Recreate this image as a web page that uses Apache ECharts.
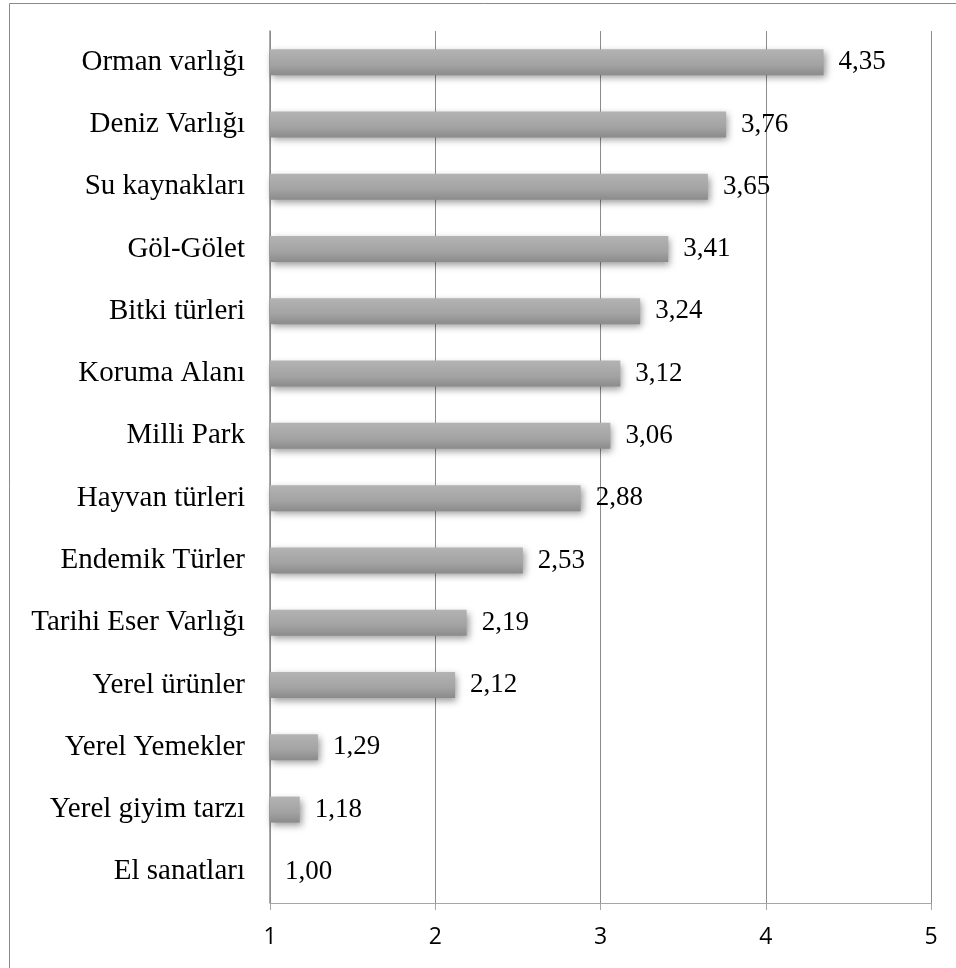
<!DOCTYPE html>
<html>
<head>
<meta charset="utf-8">
<script src="https://cdn.jsdelivr.net/npm/echarts@6/dist/echarts.min.js"></script>
<style>
  html, body { margin: 0; padding: 0; background: #fff; }
  #myChart { width: 956px; height: 968px; }
</style>
</head>
<body>
<div id="myChart"></div>
<script>
// kategoriler, yukaridan asagiya
const categories = [
  'Orman varlığı', 'Deniz Varlığı', 'Su kaynakları', 'Göl-Gölet',
  'Bitki türleri', 'Koruma Alanı', 'Milli Park', 'Hayvan türleri',
  'Endemik Türler', 'Tarihi Eser Varlığı', 'Yerel ürünler',
  'Yerel Yemekler', 'Yerel giyim tarzı', 'El sanatları'
]
const scores = [4.35, 3.76, 3.65, 3.41, 3.24, 3.12, 3.06, 2.88, 2.53, 2.19, 2.12, 1.29, 1.18, 1.00]
const xTicks = [1, 2, 3, 4, 5]

const myChart = echarts.init(document.getElementById('myChart'))
myChart.setOption({
  animation: false,
  graphic: [{
    type: 'rect',
    left: 7,
    top: 1,
    shape: { width: 1000, height: 1000 },
    style: { fill: 'none', stroke: '#8a8a8a', lineWidth: 1 },
    silent: true
  }],
  grid: {
    left: 270,
    right: 25,
    top: 31,
    bottom: 65
  },
  xAxis: {
    type: 'value',
    min: xTicks[0],
    max: xTicks[xTicks.length - 1],
    interval: 1,
    axisLine: { show: true, lineStyle: { color: '#a6a6a6', width: 1 } },
    axisTick: { show: true, length: 7, lineStyle: { color: '#a6a6a6' } },
    axisLabel: {
      color: '#000',
      fontFamily: 'Open Sans',
      fontSize: 23,
      margin: 23
    },
    splitLine: { show: true, lineStyle: { color: '#8c8c8c', width: 1 } }
  },
  yAxis: {
    type: 'category',
    data: categories,
    inverse: true,
    axisLine: { show: true, lineStyle: { color: '#8c8c8c', width: 1.5 } },
    axisTick: { show: false },
    axisLabel: {
      color: '#000',
      fontFamily: 'Liberation Serif',
      fontSize: 29,
      margin: 25
    }
  },
  series: [
    {
      type: 'bar',
      data: scores,
      barWidth: 26,
      itemStyle: {
        color: new echarts.graphic.LinearGradient(0, 0, 0, 1, [
          { offset: 0, color: '#b3b3b3' },
          { offset: 0.6, color: '#a3a3a3' },
          { offset: 1, color: '#8b8b8b' }
        ]),
        shadowColor: 'rgba(0, 0, 0, 0.4)',
        shadowBlur: 7,
        shadowOffsetX: 2,
        shadowOffsetY: 3
      },
      label: {
        show: true,
        position: 'right',
        distance: 15,
        color: '#000',
        fontFamily: 'Liberation Serif',
        fontSize: 27,
        formatter: function(p) {
          return p.value.toFixed(2).replace('.', ',')
        }
      }
    }
  ]
})
</script>
</body>
</html>
